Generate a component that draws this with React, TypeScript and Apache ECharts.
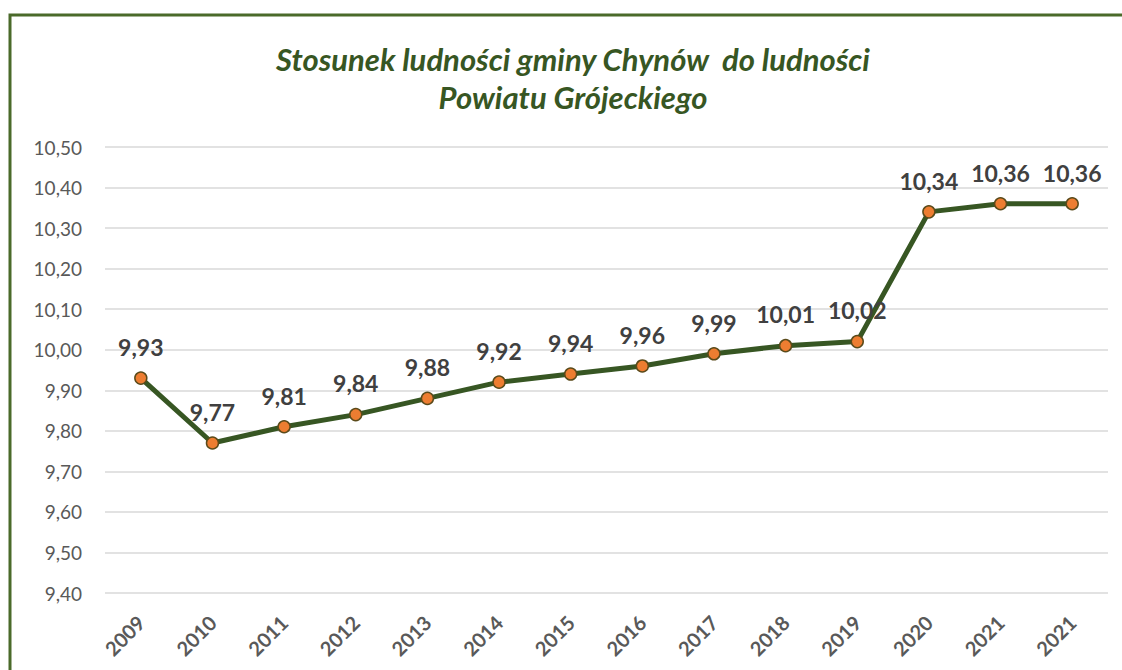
import React, { useEffect, useRef } from "react";
import * as echarts from "echarts";

const categories = ["2009", "2010", "2011", "2012", "2013", "2014", "2015", "2016", "2017", "2018", "2019", "2020", "2021", "2021"];
const values = [9.93, 9.77, 9.81, 9.84, 9.88, 9.92, 9.94, 9.96, 9.99, 10.01, 10.02, 10.34, 10.36, 10.36];
const yMin = 9.4;
const yMax = 10.5;
const yStep = 0.1;
const titleLines = ["Stosunek ludności gminy Chynów  do ludności", "Powiatu Grójeckiego"];

const fmt = (v: number) => v.toFixed(2).replace(".", ",");

export default function App() {
  const ref = useRef<HTMLDivElement>(null);
  useEffect(() => {
    if (!ref.current) return;
    const chart = echarts.init(ref.current, undefined, { renderer: "svg" });
    const font = "Lato, 'Open Sans', sans-serif";
    chart.setOption({
      animation: false,
      backgroundColor: "#ffffff",
      textStyle: { fontFamily: font },
      graphic: [
        {
          type: "rect",
          shape: { x: 10, y: 15, width: 1140, height: 700 },
          style: { fill: "none", stroke: "#4a6a2a", lineWidth: 3 },
          z: 10,
        },
        {
          type: "text",
          x: 573,
          y: 78,
          style: {
            text: titleLines.join("\n"),
            fontFamily: font,
            fontSize: 31,
            fontWeight: "bold",
            fontStyle: "italic",
            fill: "#375623",
            textAlign: "center",
            textVerticalAlign: "middle",
            lineHeight: 38,
          },
        },
      ],
      grid: { left: 105, right: 14, top: 147, bottom: 77, containLabel: false },
      xAxis: {
        type: "category",
        data: categories,
        boundaryGap: true,
        axisLine: { show: false },
        axisTick: { show: false },
        axisLabel: {
          rotate: 45,
          interval: 0,
          margin: 26,
          color: "#595959",
          fontSize: 20,
          fontWeight: "bold",
          fontFamily: font,
          hideOverlap: false,
        },
      },
      yAxis: {
        type: "value",
        min: yMin,
        max: yMax,
        interval: yStep,
        axisLine: { show: false },
        axisTick: { show: false },
        splitLine: { lineStyle: { color: "#d9d9d9", width: 1.5 } },
        axisLabel: {
          margin: 23,
          color: "#595959",
          fontSize: 19,
          fontFamily: font,
          formatter: (v: number) => fmt(v),
        },
      },
      series: [
        {
          type: "line",
          data: values,
          symbol: "circle",
          symbolSize: 12,
          lineStyle: { color: "#375623", width: 5 },
          itemStyle: { color: "#ed7d31", borderColor: "#5a4a1a", borderWidth: 1.5 },
          label: {
            show: true,
            position: "top",
            distance: 13,
            color: "#404040",
            fontSize: 23,
            fontWeight: "bold",
            fontFamily: font,
            formatter: (p: any) => fmt(p.value),
          },
          z: 5,
        },
      ],
    });
    return () => chart.dispose();
  }, []);
  return <div ref={ref} style={{ position: "fixed", left: 0, top: 0, width: 1122, height: 670 }} />;
}
